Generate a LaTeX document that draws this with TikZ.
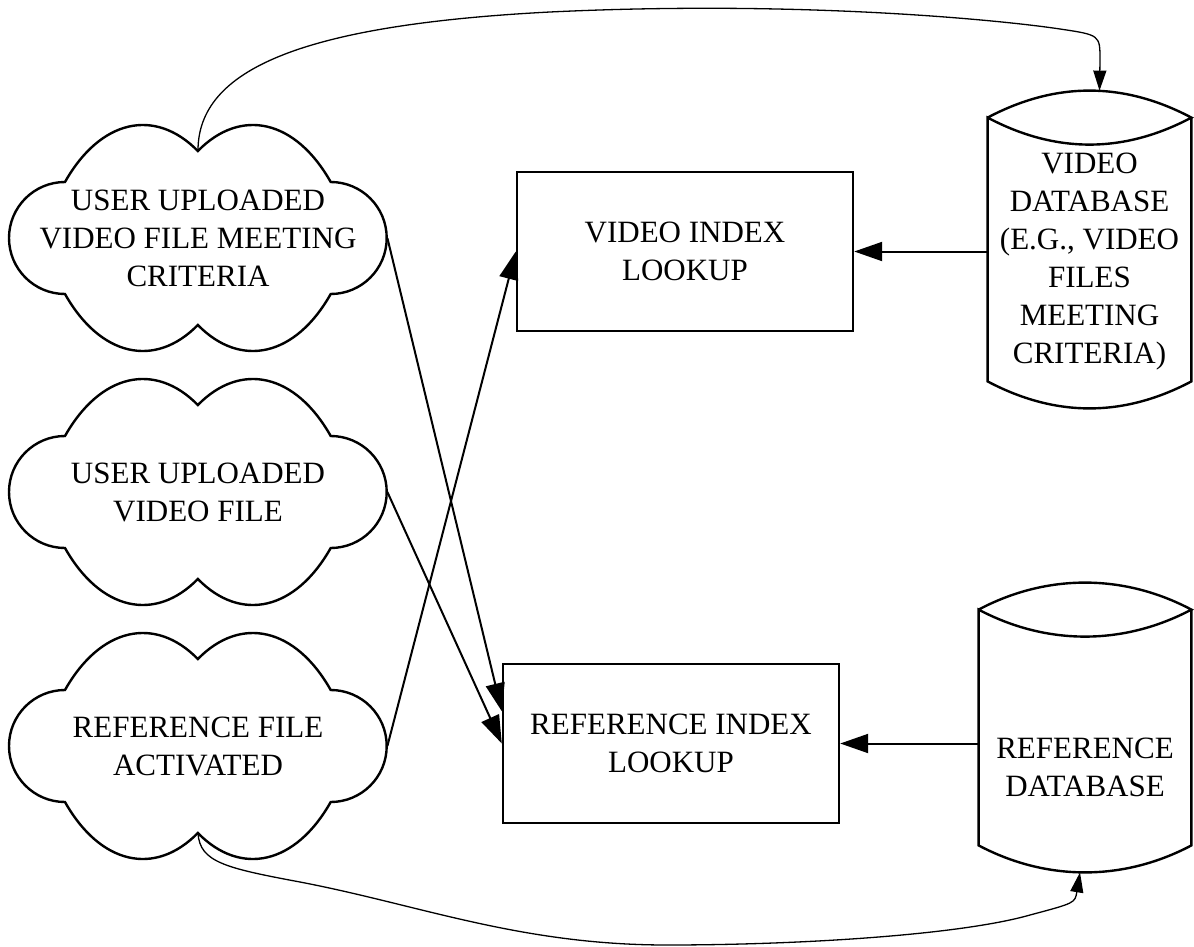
\documentclass[tikz,border=0pt]{standalone}
\usepackage{fontspec}
\setmainfont{Liberation Serif}
\usetikzlibrary{arrows.meta, calc}

\tikzset{
  cloudtext/.style={minimum width=189pt, minimum height=87pt, inner sep=0pt, align=center},
  lookup/.style={draw, line width=1.2pt, minimum width=168pt, minimum height=79.5pt, inner sep=0pt, align=center},
  dbshape/.style={inner sep=0pt},
  outline/.style={line width=1.2pt, line join=miter},
  flow/.style={line width=1pt, -{Triangle[length=14pt, width=9.5pt]}},
  sweep/.style={line width=0.65pt, -{Triangle[length=10pt, width=6.5pt]}},
}

\begin{document}
\begin{tikzpicture}[x=0.5pt, y=0.5pt, font=\fontsize{15.5}{19}\selectfont]
  \useasboundingbox (0,0) rectangle (1194,-947);

  % Uploaded files and the activated reference
  \node[cloudtext] (upl) at (198,-238) {USER UPLOADED\\VIDEO FILE MEETING\\CRITERIA};
  \node[cloudtext] (vid) at (198,-492) {USER UPLOADED\\VIDEO FILE};
  \node[cloudtext] (ref) at (198,-746) {REFERENCE FILE\\ACTIVATED};

  % Cloud outlines (two bumps top and bottom, one on each side)
  \foreach \cl in {upl,vid,ref}
    \draw[outline] ([shift={(-133,56)}]\cl.center)
      arc[start angle=135.2, end angle=59.9, x radius=109.7, y radius=193]
      arc[start angle=120.1, end angle=44.8, x radius=109.7, y radius=193]
      arc[start angle=90, end angle=-90, radius=56]
      arc[start angle=-44.8, end angle=-120.1, x radius=109.7, y radius=193]
      arc[start angle=-59.9, end angle=-135.2, x radius=109.7, y radius=193]
      arc[start angle=-90, end angle=-270, radius=56] -- cycle;

  % Index lookups
  \node[lookup] (vi) at (685,-251.5) {VIDEO INDEX\\LOOKUP};
  \node[lookup] (ri) at (671,-743.5) {REFERENCE INDEX\\LOOKUP};

  % Databases
  \node[dbshape, minimum width=101.5pt, minimum height=158.5pt] (vdb) at (1089.5,-249.5) {};
  \node[dbshape, minimum width=106pt, minimum height=144.5pt] (rdb) at (1085,-727.5) {};
  \foreach \db in {vdb,rdb}
    \draw[outline] ([yshift=-13.5pt]\db.north west)
      .. controls +(68,36) and +(-68,36) .. ([yshift=-13.5pt]\db.north east)
      .. controls +(-68,-36) and +(68,-36) .. ([yshift=-13.5pt]\db.north west)
      -- ([yshift=13.5pt]\db.south west)
      .. controls +(68,-36) and +(-68,-36) .. ([yshift=13.5pt]\db.south east)
      -- ([yshift=-13.5pt]\db.north east);
  \node[align=center] (vdb-label) at (1089.5,-262) {VIDEO\\DATABASE\\(E.G., VIDEO\\FILES\\MEETING\\CRITERIA)};
  \node[align=center] (rdb-label) at (1085,-767) {REFERENCE\\DATABASE};

  % Inputs to the lookups
  \draw[flow] (upl.east) -- ($(ri.north west)!0.3!(ri.south west)$);
  \draw[flow] (vid.east) -- (ri.west);
  \draw[flow] (ref.east) -- (vi.west);
  \draw[flow] (vdb.west |- vi.east) -- (vi.east);
  \draw[flow] (rdb.west |- ri.east) -- (ri.east);

  % Curved feeds into the databases
  \draw[sweep] (upl.north) .. controls (198,-70) and (300,-25) .. (550,-12)
    .. controls (800,0) and (1000,-20) .. (1060,-29)
    .. controls (1100,-35) .. (1100,-60) -- ([xshift=5pt]vdb.north);
  \draw[sweep] (ref.south) .. controls (200,-862) and (225,-868) .. (300,-882)
    .. controls (420,-905) and (520,-945) .. (667,-945)
    .. controls (800,-945) and (960,-935) .. (1030,-915)
    .. controls (1075,-903) .. ([xshift=-2.5pt]rdb.south);
\end{tikzpicture}
\end{document}
